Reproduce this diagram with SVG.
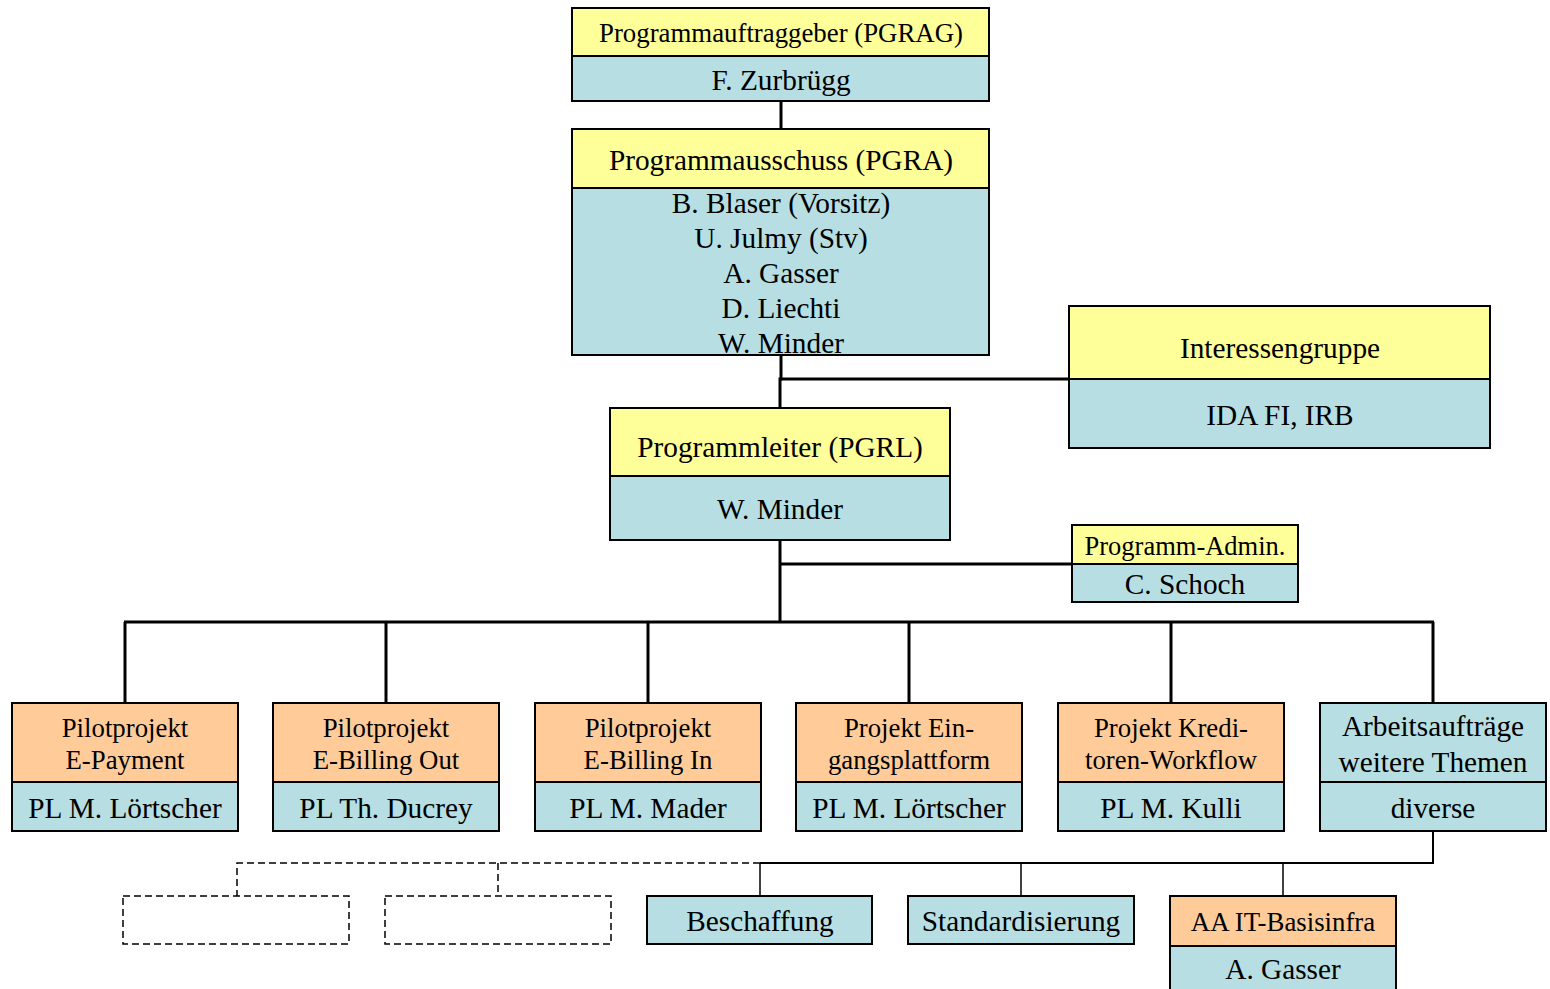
<svg xmlns="http://www.w3.org/2000/svg" width="1550" height="989" viewBox="0 0 1550 989">
  <style>
    .y { fill: #FFFF99; stroke: #000; stroke-width: 2; }
    .b { fill: #B7DFE3; stroke: #000; stroke-width: 2; }
    .o { fill: #FFCC99; stroke: #000; stroke-width: 2; }
    .d { fill: none; stroke: #000; stroke-width: 1.5; stroke-dasharray: 7 4; }
    text { font-family: "Liberation Serif", "Times New Roman", serif; fill: #000; text-anchor: middle; }
    .t24 { font-size: 26.8px; }
    .t27 { font-size: 29.3px; }
    .t22 { font-size: 26.5px; }
    .bus { fill: none; stroke: #000; stroke-width: 3; }
    .thin { fill: none; stroke: #000; stroke-width: 1.5; }
  </style>

  <rect width="1550" height="989" fill="#fff"/>

  <g id="connectors">
    <line class="bus" x1="781" y1="101" x2="781" y2="129"/>
    <polyline class="bus" points="781,355 781,379 780,379 780,408"/>
    <line class="bus" x1="780" y1="379" x2="1069" y2="379"/>
    <line class="bus" x1="780" y1="540" x2="780" y2="622"/>
    <line class="bus" x1="780" y1="564" x2="1072" y2="564"/>
    <line class="bus" x1="124" y1="622" x2="1434" y2="622"/>
    <line class="bus" x1="125" y1="622" x2="125" y2="703"/>
    <line class="bus" x1="386" y1="622" x2="386" y2="703"/>
    <line class="bus" x1="648" y1="622" x2="648" y2="703"/>
    <line class="bus" x1="909" y1="622" x2="909" y2="703"/>
    <line class="bus" x1="1171" y1="622" x2="1171" y2="703"/>
    <line class="bus" x1="1433" y1="622" x2="1433" y2="703"/>
    <!-- work-order branch -->
    <polyline class="thin" points="1433,831 1433,863 760,863" style="stroke-width:2"/>
    <line class="thin" x1="760" y1="863" x2="760" y2="896"/>
    <line class="thin" x1="1021" y1="863" x2="1021" y2="896"/>
    <line class="thin" x1="1283" y1="863" x2="1283" y2="896"/>
    <polyline class="d" points="760,863 237,863 237,896"/>
    <line class="d" x1="498" y1="863" x2="498" y2="896"/>
  </g>

  <g id="pgrag">
    <rect class="y" x="572" y="8" width="417" height="48"/>
    <rect class="b" x="572" y="56" width="417" height="45"/>
    <text class="t24" x="781" y="42">Programmauftraggeber (PGRAG)</text>
    <text class="t27" x="781" y="90">F. Zurbrügg</text>
  </g>

  <g id="pgra">
    <rect class="y" x="572" y="129" width="417" height="59"/>
    <rect class="b" x="572" y="188" width="417" height="167"/>
    <text class="t27" x="781" y="170">Programmausschuss (PGRA)</text>
    <text class="t27" x="781" y="213">B. Blaser (Vorsitz)</text>
    <text class="t27" x="781" y="248">U. Julmy (Stv)</text>
    <text class="t27" x="781" y="283">A. Gasser</text>
    <text class="t27" x="781" y="318">D. Liechti</text>
    <text class="t27" x="781" y="353">W. Minder</text>
  </g>

  <g id="interessengruppe">
    <rect class="y" x="1069" y="306" width="421" height="73"/>
    <rect class="b" x="1069" y="379" width="421" height="69"/>
    <text class="t27" x="1280" y="358">Interessengruppe</text>
    <text class="t27" x="1280" y="425">IDA FI, IRB</text>
  </g>

  <g id="pgrl">
    <rect class="y" x="610" y="408" width="340" height="68"/>
    <rect class="b" x="610" y="476" width="340" height="64"/>
    <text class="t27" x="780" y="457">Programmleiter (PGRL)</text>
    <text class="t27" x="780" y="519">W. Minder</text>
  </g>

  <g id="admin">
    <rect class="y" x="1072" y="525" width="226" height="39"/>
    <rect class="b" x="1072" y="564" width="226" height="38"/>
    <text class="t22" x="1185" y="555">Programm-Admin.</text>
    <text class="t27" x="1185" y="594">C. Schoch</text>
  </g>

  <g id="epayment">
    <rect class="o" x="12" y="703" width="226" height="79"/>
    <rect class="b" x="12" y="782" width="226" height="49"/>
    <text class="t24" x="125" y="737">Pilotprojekt</text>
    <text class="t24" x="125" y="769">E-Payment</text>
    <text class="t27" x="125" y="818">PL M. Lörtscher</text>
  </g>

  <g id="ebilling-out">
    <rect class="o" x="273" y="703" width="226" height="79"/>
    <rect class="b" x="273" y="782" width="226" height="49"/>
    <text class="t24" x="386" y="737">Pilotprojekt</text>
    <text class="t24" x="386" y="769">E-Billing Out</text>
    <text class="t27" x="386" y="818">PL Th. Ducrey</text>
  </g>

  <g id="ebilling-in">
    <rect class="o" x="535" y="703" width="226" height="79"/>
    <rect class="b" x="535" y="782" width="226" height="49"/>
    <text class="t24" x="648" y="737">Pilotprojekt</text>
    <text class="t24" x="648" y="769">E-Billing In</text>
    <text class="t27" x="648" y="818">PL M. Mader</text>
  </g>

  <g id="eingangsplattform">
    <rect class="o" x="796" y="703" width="226" height="79"/>
    <rect class="b" x="796" y="782" width="226" height="49"/>
    <text class="t24" x="909" y="737">Projekt Ein-</text>
    <text class="t24" x="909" y="769">gangsplattform</text>
    <text class="t27" x="909" y="818">PL M. Lörtscher</text>
  </g>

  <g id="kreditoren">
    <rect class="o" x="1058" y="703" width="226" height="79"/>
    <rect class="b" x="1058" y="782" width="226" height="49"/>
    <text class="t24" x="1171" y="737">Projekt Kredi-</text>
    <text class="t24" x="1171" y="769">toren-Workflow</text>
    <text class="t27" x="1171" y="818">PL M. Kulli</text>
  </g>

  <g id="arbeitsauftraege">
    <rect class="b" x="1320" y="703" width="226" height="79"/>
    <rect class="b" x="1320" y="782" width="226" height="49"/>
    <text class="t27" x="1433" y="736">Arbeitsaufträge</text>
    <text class="t27" x="1433" y="772">weitere Themen</text>
    <text class="t27" x="1433" y="818">diverse</text>
  </g>

  <g id="placeholder-1">
    <rect class="d" x="123" y="896" width="226" height="48"/>
  </g>
  <g id="placeholder-2">
    <rect class="d" x="385" y="896" width="226" height="48"/>
  </g>

  <g id="beschaffung">
    <rect class="b" x="647" y="896" width="225" height="48"/>
    <text class="t27" x="760" y="931">Beschaffung</text>
  </g>

  <g id="standardisierung">
    <rect class="b" x="908" y="896" width="226" height="48"/>
    <text class="t27" x="1021" y="931">Standardisierung</text>
  </g>

  <g id="it-basisinfra">
    <rect class="o" x="1170" y="896" width="226" height="50"/>
    <rect class="b" x="1170" y="946" width="226" height="50"/>
    <text class="t24" x="1283" y="931">AA IT-Basisinfra</text>
    <text class="t27" x="1283" y="979">A. Gasser</text>
  </g>
</svg>
